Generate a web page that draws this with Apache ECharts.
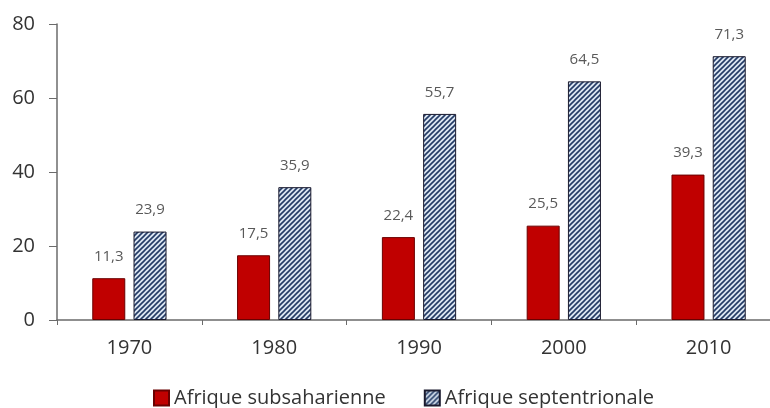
<!DOCTYPE html>
<html>
<head>
<meta charset="utf-8">
<script src="https://cdn.jsdelivr.net/npm/echarts@6/dist/echarts.min.js"></script>
<style>
  html, body { margin: 0; padding: 0; background: #fff; overflow: hidden; }
  #chart { width: 781px; height: 408px; }
</style>
</head>
<body>
<div id="chart"></div>
<script>
var years = ['1970', '1980', '1990', '2000', '2010'];
var subsaharienne = [11.3, 17.5, 22.4, 25.5, 39.3];
var septentrionale = [23.9, 35.9, 55.7, 64.5, 71.3];

// hatch pattern for the second series
function makeHatch() {
  var c = document.createElement('canvas');
  c.width = 5; c.height = 5;
  var ctx = c.getContext('2d');
  ctx.fillStyle = '#dce6f2';
  ctx.fillRect(0, 0, 5, 5);
  ctx.strokeStyle = '#243b66';
  ctx.lineWidth = 1.6;
  ctx.beginPath();
  ctx.moveTo(-1, 6); ctx.lineTo(6, -1);
  ctx.moveTo(-4, 4); ctx.lineTo(4, -4);
  ctx.moveTo(1, 9); ctx.lineTo(9, 1);
  ctx.stroke();
  return c;
}
var hatch = { image: makeHatch(), repeat: 'repeat' };

var fmt = function (p) { return String(p.value).replace('.', ','); };

var myChart = echarts.init(document.getElementById('chart'), null, { renderer: 'canvas' });
var option = {
  backgroundColor: '#fff',
  animation: false,
  textStyle: { fontFamily: 'Open Sans' },
  grid: { left: 57, right: 0, top: 24, bottom: 88, containLabel: false },
  legend: {
    top: 383,
    left: 148,
    icon: 'rect',
    itemWidth: 15,
    itemHeight: 15,
    itemGap: 38,
    textStyle: { fontSize: 20, color: '#333' },
    data: ['Afrique subsaharienne', 'Afrique septentrionale']
  },
  xAxis: {
    type: 'category',
    data: years,
    axisLine: { lineStyle: { color: '#6b6b6b', width: 1.5 } },
    axisTick: { show: true, length: 5, lineStyle: { color: '#6b6b6b' } },
    axisLabel: { fontSize: 20, color: '#333', margin: 18 }
  },
  yAxis: {
    type: 'value',
    min: 0, max: 80, interval: 20,
    axisLine: { show: true, lineStyle: { color: '#6b6b6b', width: 1.5 } },
    axisTick: { show: true, length: 8, lineStyle: { color: '#6b6b6b' } },
    splitLine: { show: false },
    axisLabel: { fontSize: 20, color: '#333', margin: 22 }
  },
  series: [
    {
      name: 'Afrique subsaharienne',
      type: 'bar',
      data: subsaharienne,
      barWidth: 33,
      barGap: '25%',
      itemStyle: { color: '#c00000', borderColor: '#6a0000', borderWidth: 1 },
      label: { show: true, position: 'top', distance: 14, fontSize: 15, color: '#595959', formatter: fmt }
    },
    {
      name: 'Afrique septentrionale',
      type: 'bar',
      data: septentrionale,
      barWidth: 33,
      itemStyle: { color: hatch, borderColor: '#1a1a2e', borderWidth: 1 },
      label: { show: true, position: 'top', distance: 14, fontSize: 15, color: '#595959', formatter: fmt }
    }
  ]
};
myChart.setOption(option);
</script>
</body>
</html>
